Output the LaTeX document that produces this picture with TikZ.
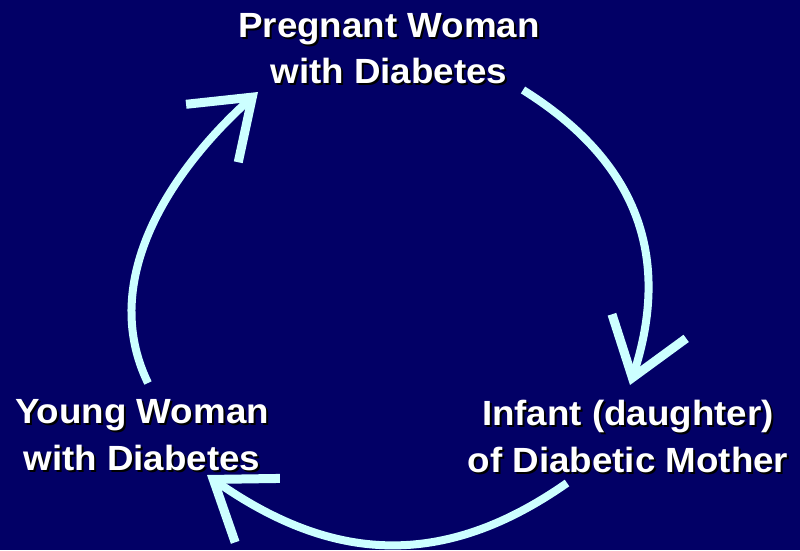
\documentclass[tikz,border=0pt]{standalone}
\usepackage{xcolor}
\usepackage{fontspec}
\setmainfont{Liberation Sans}[FakeStretch=1.05]
\usepackage{tikz}
\usetikzlibrary{arrows.meta, positioning, calc}
\definecolor{mynavy}{RGB}{2,0,102}
\definecolor{mycyan}{RGB}{204,255,255}
\newcommand{\shadowed}[1]{\rlap{\kern2pt\raisebox{-2pt}{\color{black}#1}}#1}
\tikzset{
  label/.style={align=center, inner sep=0pt, anchor=base, text=white,
    font=\fontsize{35}{46.5}\selectfont\bfseries},
  cyclearrow/.style={line width=8pt, color=mycyan,
    -{Straight Barb[length=54pt, width=78pt, line width=9pt]}}
}

\begin{document}
\begin{tikzpicture}[x=1pt, y=1pt]
  % Background
  \useasboundingbox (0,0) rectangle (800,550);
  \fill[mynavy] (0,0) rectangle (800,550);

  % Stages of the cycle (base = last line)
  \node[label] (pregnant) at (389,466) {\shadowed{Pregnant Woman}\\\shadowed{with Diabetes}};
  \node[label] (infant) at (628,78) {\shadowed{Infant (daughter)}\\\shadowed{of Diabetic Mother}};
  \node[label] (young) at (142,80) {\shadowed{Young Woman}\\\shadowed{with Diabetes}};

  % Arc ends
  \coordinate (p-out) at (523,460);
  \coordinate (i-in) at (630,165);
  \coordinate (i-out) at (567,67);
  \coordinate (y-in) at (207,75);
  \coordinate (y-out) at (148,167);
  \coordinate (p-in) at (258,458);

  % Arcs
  \draw[cyclearrow] (p-out) to[out=-32, in=72, looseness=1.1] (i-in);
  \draw[cyclearrow] (i-out) to[out=215, in=-35, looseness=1.08] (y-in);
  \draw[cyclearrow] (y-out) to[out=116, in=222, looseness=0.95] (p-in);
\end{tikzpicture}
\end{document}
